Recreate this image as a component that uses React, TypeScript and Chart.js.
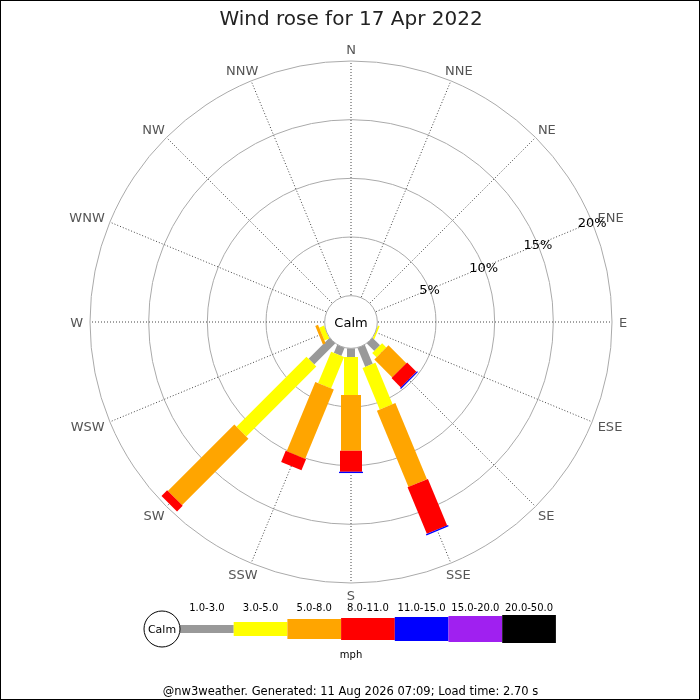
import React, { useEffect, useRef } from "react";
import { Chart, registerables } from "chart.js";

Chart.register(...registerables);

// ---------- data ----------
const DIRECTIONS = ["N", "NNE", "NE", "ENE", "E", "ESE", "SE", "SSE", "S", "SSW", "SW", "WSW", "W", "WNW", "NW", "NNW"];
const SPEED_CLASSES = ["1.0-3.0", "3.0-5.0", "5.0-8.0", "8.0-11.0", "11.0-15.0", "15.0-20.0", "20.0-50.0"];
//                      N  NNE NE ENE E  ESE   SE    SSE   S     SSW   SW    WSW   W  WNW NW NNW
const PCT_1_3 =        [0, 0, 0, 0, 0, 0,    0.91, 1.76, 0.74, 0.74, 2.53, 0,    0, 0, 0, 0];
const PCT_3_5 =        [0, 0, 0, 0, 0, 0.15, 0.51, 3.82, 3.24, 2.90, 8.44, 0.45, 0, 0, 0, 0];
const PCT_5_8 =        [0, 0, 0, 0, 0, 0,    2.16, 7.04, 4.75, 6.39, 8.01, 0.25, 0, 0, 0, 0];
const PCT_8_11 =       [0, 0, 0, 0, 0, 0,    1.12, 4.29, 1.79, 1.02, 0.68, 0,    0, 0, 0, 0];
const PCT_11_15 =      [0, 0, 0, 0, 0, 0,    0.10, 0.12, 0.11, 0,    0,    0,    0, 0, 0, 0];
const PCT_15_20 =      [0, 0, 0, 0, 0, 0,    0,    0,    0,    0,    0,    0,    0, 0, 0, 0];
const PCT_20_50 =      [0, 0, 0, 0, 0, 0,    0,    0,    0,    0,    0,    0,    0, 0, 0, 0];
const SERIES = [PCT_1_3, PCT_3_5, PCT_5_8, PCT_8_11, PCT_11_15, PCT_15_20, PCT_20_50];
const TICK_VALUES = [5, 10, 15, 20];
const TITLE = "Wind rose for 17 Apr 2022";
const FOOTER = "@nw3weather. Generated: 11 Aug 2026 07:09; Load time: 2.70 s";
const UNITS = "mph";
const CALM = "Calm";

// ---------- styles ----------
const COLORS = ["#999999", "#ffff00", "#ffa500", "#ff0000", "#0000ff", "#a020f0", "#000000"];
const BAR_WIDTHS = [8, 14, 20, 22, 24, 26, 28];
const SCALE_MIN = -2.244; // room for the calm circle
const SCALE_MAX = 20;
const FONT = '"DejaVu Sans", "Liberation Sans", sans-serif';
const MID = 1.5; // visual centring correction for "middle" baseline

const windRosePlugin = {
  id: "windRose",
  afterDatasetsDraw(chart: any) {
    const scale = chart.scales.r;
    const ctx: CanvasRenderingContext2D = chart.ctx;
    const n = chart.data.labels.length;
    ctx.save();

    // bars
    for (let i = 0; i < n; i++) {
      let cum = 0;
      chart.data.datasets.forEach((ds: any, k: number) => {
        const v = ds.data[i];
        if (!v) return;
        const a = scale.getPointPositionForValue(i, cum);
        const b = scale.getPointPositionForValue(i, cum + v);
        ctx.beginPath();
        ctx.moveTo(a.x, a.y);
        ctx.lineTo(b.x, b.y);
        ctx.lineCap = "butt";
        ctx.lineWidth = BAR_WIDTHS[k];
        ctx.strokeStyle = COLORS[k];
        ctx.stroke();
        cum += v;
      });
    }

    // calm circle
    const rc = scale.getDistanceFromCenterForValue(0);
    ctx.beginPath();
    ctx.arc(scale.xCenter, scale.yCenter, rc, 0, Math.PI * 2);
    ctx.fillStyle = "#ffffff";
    ctx.fill();
    ctx.lineWidth = 1;
    ctx.strokeStyle = "#aaaaaa";
    ctx.stroke();
    ctx.fillStyle = "#000";
    ctx.font = `13px ${FONT}`;
    ctx.textAlign = "center";
    ctx.textBaseline = "middle";
    ctx.fillText(CALM, scale.xCenter, scale.yCenter + MID);

    // direction labels
    ctx.font = `13px ${FONT}`;
    ctx.fillStyle = "#555555";
    const rOuter = scale.getDistanceFromCenterForValue(scale.max);
    for (let i = 0; i < n; i++) {
      const label = chart.data.labels[i];
      const p = scale.getPointPosition(i, rOuter);
      const ux = (p.x - scale.xCenter) / rOuter;
      const uy = (p.y - scale.yCenter) / rOuter;
      const w = ctx.measureText(label).width;
      const h = 10;
      const pad = 7;
      ctx.fillText(label, p.x + ux * (pad + w / 2), p.y + uy * (pad + h / 2) + MID);
    }

    // tick labels along ENE
    ctx.fillStyle = "#000";
    ctx.font = `13px ${FONT}`;
    scale.ticks.forEach((t: any) => {
      const p = scale.getPointPositionForValue(3, t.value);
      ctx.fillText(`${t.value}%`, p.x, p.y + MID);
    });

    ctx.restore();
  },
  afterDraw(chart: any) {
    const ctx: CanvasRenderingContext2D = chart.ctx;
    ctx.save();
    // title
    ctx.fillStyle = "#222";
    ctx.font = `20px ${FONT}`;
    ctx.textAlign = "center";
    ctx.textBaseline = "alphabetic";
    ctx.fillText(TITLE, 351, 25);

    // legend
    const cx = 162, cy = 629, cr = 18;
    const segW = 53.7;
    const x0 = cx + cr;
    SPEED_CLASSES.forEach((lab, k) => {
      const x = x0 + k * segW;
      ctx.fillStyle = COLORS[k];
      ctx.fillRect(x, cy - BAR_WIDTHS[k] / 2, segW, BAR_WIDTHS[k]);
      ctx.fillStyle = "#000";
      ctx.font = `10px ${FONT}`;
      ctx.textBaseline = "middle";
      ctx.fillText(lab, x + segW / 2, 607 + MID);
    });
    ctx.beginPath();
    ctx.arc(cx, cy, cr, 0, Math.PI * 2);
    ctx.fillStyle = "#fff";
    ctx.fill();
    ctx.strokeStyle = "#000";
    ctx.lineWidth = 1;
    ctx.stroke();
    ctx.fillStyle = "#000";
    ctx.font = `11px ${FONT}`;
    ctx.fillText(CALM, cx, cy + MID);
    ctx.font = `10px ${FONT}`;
    ctx.fillText(UNITS, 351, 654 + MID);

    // footer
    ctx.font = `11.5px ${FONT}`;
    ctx.textBaseline = "alphabetic";
    ctx.fillText(FOOTER, 350.5, 695);

    // border
    ctx.strokeStyle = "#000";
    ctx.lineWidth = 1;
    ctx.strokeRect(0.5, 0.5, 699, 699);
    ctx.restore();
  },
};

export default function App() {
  const canvasRef = useRef<HTMLCanvasElement | null>(null);

  useEffect(() => {
    const canvas = canvasRef.current;
    if (!canvas) return;
    const chart = new Chart(canvas, {
      type: "radar",
      data: {
        labels: DIRECTIONS,
        datasets: SERIES.map((data, k) => ({
          label: SPEED_CLASSES[k],
          data,
          borderColor: "rgba(0,0,0,0)",
          backgroundColor: "rgba(0,0,0,0)",
          borderWidth: 0,
          pointRadius: 0,
          pointHitRadius: 0,
          fill: false,
          showLine: false,
        })),
      },
      options: {
        responsive: false,
        animation: false,
        events: [],
        layout: { padding: { left: 90, top: 61, right: 88, bottom: 117 } },
        plugins: {
          legend: { display: false },
          title: { display: false },
          tooltip: { enabled: false },
        },
        scales: {
          r: {
            min: SCALE_MIN,
            max: SCALE_MAX,
            startAngle: 0,
            afterBuildTicks: (scale: any) => {
              scale.ticks = TICK_VALUES.map((v) => ({ value: v }));
            },
            ticks: { display: false },
            pointLabels: { display: false },
            grid: { circular: true, color: "#aaaaaa", lineWidth: 1 },
            angleLines: { display: true, color: "#444444", lineWidth: 1, borderDash: [1, 2] },
          },
        },
      },
      plugins: [windRosePlugin],
    } as any);
    return () => chart.destroy();
  }, []);

  return (
    <div style={{ position: "fixed", left: 0, top: 0, width: 700, height: 700, background: "#fff" }}>
      <canvas ref={canvasRef} width={700} height={700} style={{ display: "block" }} />
    </div>
  );
}
